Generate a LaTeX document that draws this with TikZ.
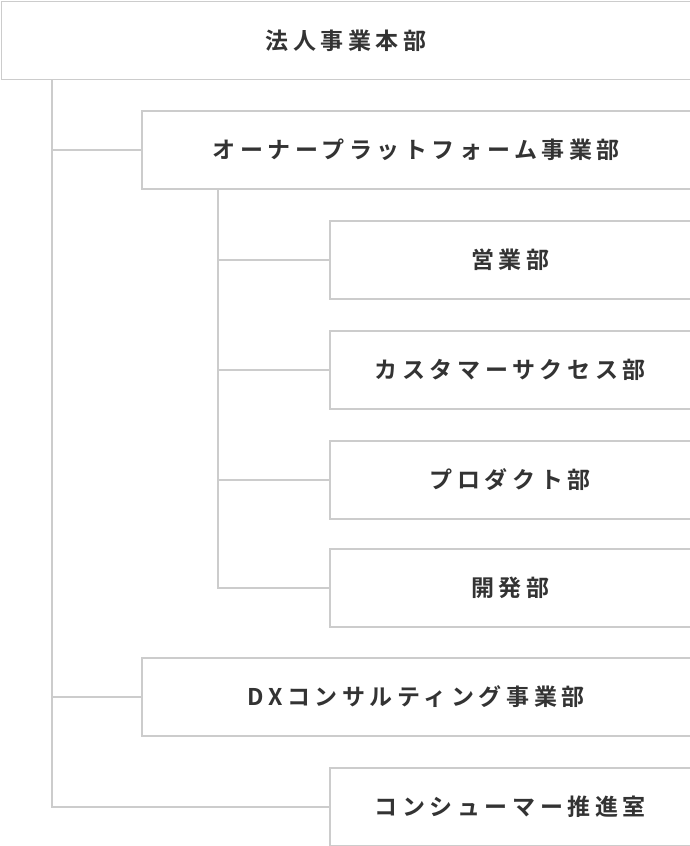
\documentclass[tikz,border=0pt]{standalone}
\usepackage{fontspec}
\setmainfont{Noto Sans CJK JP}[BoldFont={Noto Sans CJK JP Bold}, LetterSpace=20]
\usetikzlibrary{positioning}
\definecolor{boxline}{HTML}{CCCCCC}
\definecolor{boxtext}{HTML}{333333}
\tikzset{unit/.style={draw=boxline, line width=1.5pt, anchor=north west, minimum height=78pt, inner sep=0pt, text=boxtext, font=\fontsize{23}{26}\selectfont\bfseries},
         link/.style={draw=boxline, line width=1.5pt}}
\begin{document}
\begin{tikzpicture}[x=1pt, y=-1pt]
    \useasboundingbox (0,0) rectangle (690,846);
    \node[unit, minimum width=689pt] (hq) at (0.75,0.75) {法人事業本部};
    \node[unit, minimum width=549pt] (owner) at (141,110) {オーナープラットフォーム事業部};
    \node[unit, minimum width=361pt] (sales) at (329,220) {営業部};
    \node[unit, minimum width=361pt] (cs) at (329,330) {カスタマーサクセス部};
    \node[unit, minimum width=361pt] (prod) at (329,440) {プロダクト部};
    \node[unit, minimum width=361pt] (dev) at (329,548) {開発部};
    \node[unit, minimum width=549pt] (dx) at (141,657) {DXコンサルティング事業部};
    \node[unit, minimum width=361pt] (cons) at (329,767) {コンシューマー推進室};
    \coordinate (hqb) at (52,0 |- hq.south);
    \coordinate (ob) at (218,0 |- owner.south);
    \draw[link] (hqb) |- (cons.west);
    \draw[link] (hqb |- owner.west) -- (owner.west);
    \draw[link] (hqb |- dx.west) -- (dx.west);
    \draw[link] (ob) |- (dev.west);
    \draw[link] (ob |- sales.west) -- (sales.west);
    \draw[link] (ob |- cs.west) -- (cs.west);
    \draw[link] (ob |- prod.west) -- (prod.west);
\end{tikzpicture}
\end{document}
